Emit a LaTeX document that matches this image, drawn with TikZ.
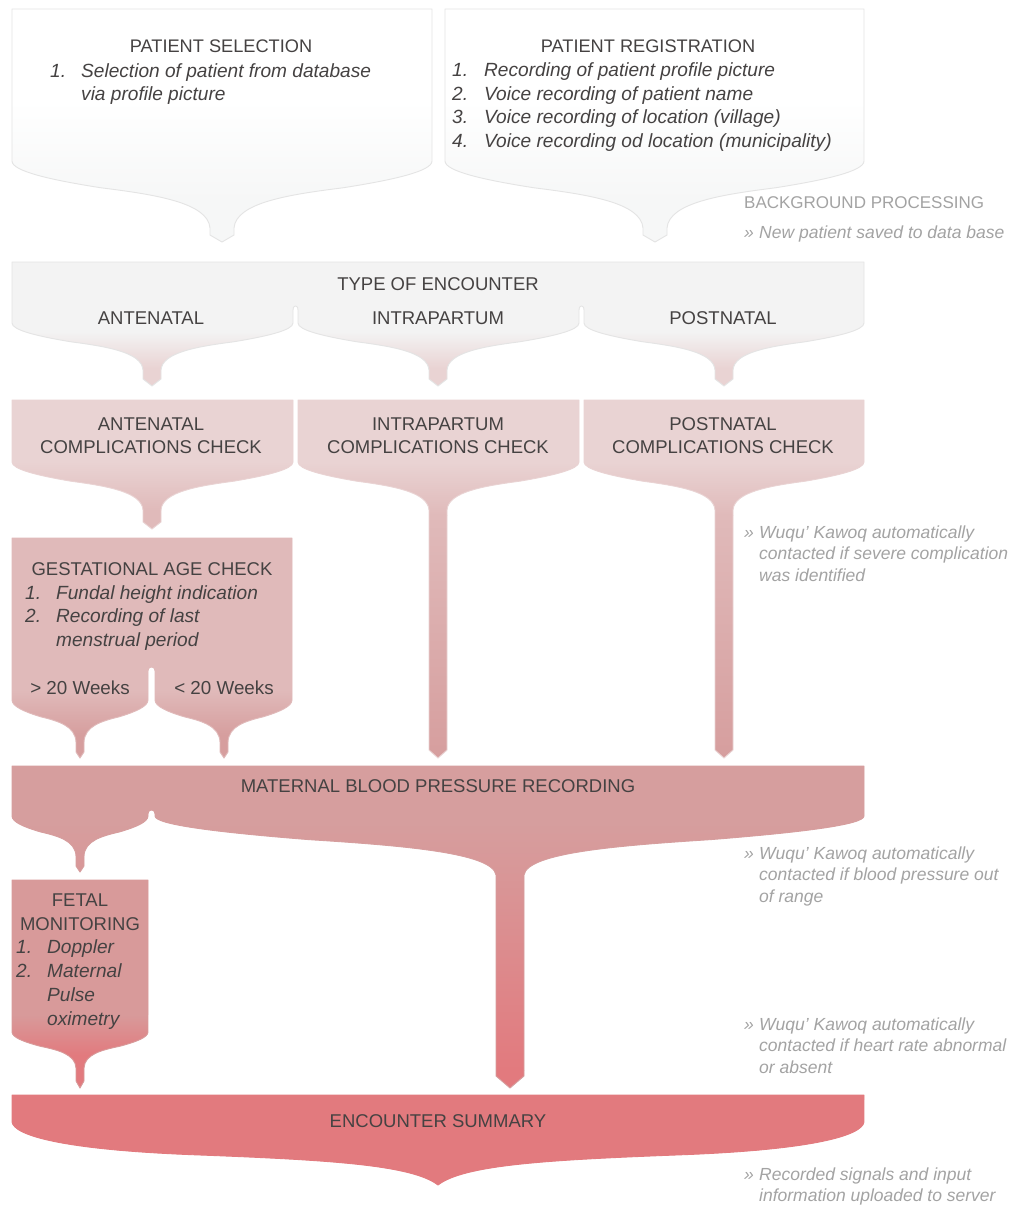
\documentclass[tikz,border=0pt]{standalone}
\usepackage{fontspec}
\setmainfont{Liberation Sans}
\definecolor{txt}{HTML}{454242}
\definecolor{note}{HTML}{A3A3A3}
\definecolor{edge}{HTML}{E4E4E4}
\definecolor{cWhite}{HTML}{FFFFFF}
\definecolor{cPale}{HTML}{F6F7F7}
\definecolor{cGrey}{HTML}{F3F3F3}
\definecolor{cRoseA}{HTML}{E9D3D3}
\definecolor{cRoseB}{HTML}{E0BABA}
\definecolor{cRoseC}{HTML}{D69E9E}
\definecolor{cRoseD}{HTML}{D89A9A}
\definecolor{cRed}{HTML}{E27A7E}
\newcommand\startP[2]{\xdef\fpath{(#1,#2)}}
\newcommand\addL[2]{\xdef\fpath{\fpath -- (#1,#2)}}
\newcommand\addRaw[1]{\xdef\fpath{\fpath #1}}
% xl xr yside cx halfwidth ystem ytipbase ytip
\newcommand\addlow[8]{%
 \pgfmathsetmacro\sl{#4-#5}\pgfmathsetmacro\sr{#4+#5}%
 \pgfmathsetmacro\wl{\sl-#1}\pgfmathsetmacro\wr{#2-\sr}%
 \pgfmathsetmacro\dd{#6-#3}%
 \pgfmathsetmacro\ym{#3+0.40*\dd}\pgfmathsetmacro\yca{#3+0.15*\dd}\pgfmathsetmacro\ycb{#3+0.28*\dd}%
 \pgfmathsetmacro\ycc{#3+0.50*\dd}\pgfmathsetmacro\ycd{#3+0.62*\dd}%
 \pgfmathsetmacro\xa{#1+0.19*\wl}\pgfmathsetmacro\xb{#1+0.45*\wl}\pgfmathsetmacro\xc{#1+0.72*\wl}\pgfmathsetmacro\xg{#1+0.99*\wl}%
 \pgfmathsetmacro\xd{#2-0.19*\wr}\pgfmathsetmacro\xe{#2-0.45*\wr}\pgfmathsetmacro\xf{#2-0.72*\wr}\pgfmathsetmacro\xh{#2-0.99*\wr}%
 \xdef\fpath{\fpath -- (#1,#3) .. controls (#1,\yca) and (\xa,\ycb) .. (\xb,\ym)
   .. controls (\xc,\ycc) and (\xg,\ycd) .. (\sl,#6) -- (\sl,#7) -- (#4,#8) -- (\sr,#7) -- (\sr,#6)
   .. controls (\xh,\ycd) and (\xf,\ycc) .. (\xe,\ym) .. controls (\xd,\ycb) and (#2,\yca) .. (#2,#3)}}
% a notch between two funnels: x1 x2 ytop
\newcommand\addnotch[3]{%
 \pgfmathsetmacro\nm{(#1+#2)/2}\pgfmathsetmacro\ny{#3+4}%
 \xdef\fpath{\fpath -- (#1,\ny) .. controls (#1,#3) and (\nm,#3) .. (\nm,#3) .. controls (\nm,#3) and (#2,#3) .. (#2,\ny)}}
% colours a b c, gradient stops y1 y2 y3, outline colour
\newcommand\paintP[7]{%
 \begin{scope}
  \clip \fpath -- cycle;
  \fill[#1] (0,0) rectangle (1011,#4);
  \shade[top color=#1,bottom color=#2] (0,#4) rectangle (1011,#5);
  \shade[top color=#2,bottom color=#3] (0,#5) rectangle (1011,#6);
  \fill[#3] (0,#6) rectangle (1011,1205);
 \end{scope}
 \draw[#7,line width=0.9pt,line join=round] \fpath -- cycle;}
\tikzset{
 head/.style={anchor=base,text=txt,font=\fontsize{18.5}{18}\selectfont,inner sep=0pt},
 headsmall/.style={head,font=\fontsize{18.2}{18}\selectfont},
 weeks/.style={head,font=\fontsize{18.8}{18}\selectfont},
 item/.style={anchor=base west,text=txt,font=\fontsize{19.1}{18}\selectfont\itshape,inner sep=0pt},
 side/.style={anchor=base west,text=note,font=\fontsize{17.5}{17}\selectfont\itshape,inner sep=0pt},
 sidehead/.style={anchor=base west,text=note,font=\fontsize{17}{17}\selectfont,inner sep=0pt}
}
\begin{document}
\begin{tikzpicture}[x=1pt,y=-1pt]
\useasboundingbox (0,0) rectangle (1011,1205);
\fill[white] (0,0) rectangle (1011,1205);
% patient selection
\startP{12}{9}\addlow{12}{432}{161}{222}{12}{228}{235}{242}\addL{432}{9}
\paintP{cWhite}{cPale}{cPale}{100}{200}{240}{edge}
% patient registration
\startP{445}{9}\addlow{445}{864}{161}{655}{12}{228}{235}{242}\addL{864}{9}
\paintP{cWhite}{cPale}{cPale}{100}{200}{240}{edge}
% type of encounter
\startP{12}{262}
\addlow{12}{293}{323}{152}{9}{370}{379}{386}
\addnotch{293}{298}{306}
\addlow{298}{579}{323}{438}{9}{370}{379}{386}
\addnotch{579}{584}{306}
\addlow{584}{864}{323}{724}{9}{370}{379}{386}
\addL{864}{262}
\paintP{cGrey}{cRoseA}{cRoseA}{332}{368}{386}{edge}
% complications
\startP{12}{400}\addlow{12}{293}{462}{152}{9}{510}{522}{529}\addL{293}{400}
\paintP{cRoseA}{cRoseB}{cRoseB}{462}{510}{529}{cRoseA}
\startP{298}{400}\addlow{298}{579}{462}{438}{9}{510}{750}{758}\addL{579}{400}
\paintP{cRoseA}{cRoseB}{cRoseC}{462}{515}{758}{cRoseA}
\startP{584}{400}\addlow{584}{864}{462}{724}{9}{510}{750}{758}\addL{864}{400}
\paintP{cRoseA}{cRoseB}{cRoseC}{462}{515}{758}{cRoseA}
% gestational age
\startP{12}{538}
\addlow{12}{148}{700}{80}{4}{742}{752}{758}
\addnotch{148}{155}{667}
\addlow{155}{292}{700}{224}{4}{742}{752}{758}
\addL{292}{538}
\paintP{cRoseB}{cRoseC}{cRoseC}{690}{735}{758}{cRoseB}
% maternal blood pressure
\startP{12}{766}
\addlow{12}{148}{816}{80}{4}{856}{866}{872}
\addnotch{148}{155}{810}
\addlow{155}{864}{816}{510}{14}{875}{1076}{1088}
\addL{864}{766}
\paintP{cRoseC}{cRed}{cRed}{822}{1070}{1088}{cRoseC}
% fetal monitoring
\startP{12}{880}\addlow{12}{148}{1032}{80}{4}{1068}{1081}{1088}\addL{148}{880}
\paintP{cRoseD}{cRed}{cRed}{1015}{1055}{1088}{cRoseD}
% encounter summary
\startP{12}{1095}\addL{12}{1122}
\addRaw{.. controls (14,1135) and (60,1150) .. (200,1155) .. controls (330,1160) and (412,1165) .. (438,1185)
 .. controls (464,1165) and (546,1160) .. (676,1155) .. controls (816,1150) and (862,1135) .. (864,1122)}
\addL{864}{1095}
\paintP{cRed}{cRed}{cRed}{1100}{1150}{1190}{cRed}
% texts
\node[headsmall] (n1) at (221,52) {PATIENT SELECTION};
\node[item] (n2) at (50,77) {1.};
\node[item] (n3) at (81,77) {Selection of patient from database};
\node[item] (n4) at (81,100) {via profile picture};
\node[headsmall] (r0) at (648,52) {PATIENT REGISTRATION};
\node[item] (r1) at (452,76) {1.};
\node[item] (r2) at (484,76) {Recording of patient profile picture};
\node[item] (r3) at (452,100) {2.};
\node[item] (r4) at (484,100) {Voice recording of patient name};
\node[item] (r5) at (452,123) {3.};
\node[item] (r6) at (484,123) {Voice recording of location (village)};
\node[item] (r7) at (452,147) {4.};
\node[item] (r8) at (484,147) {Voice recording od location (municipality)};
\node[sidehead] (b1) at (744,208) {BACKGROUND PROCESSING};
\node[side] (b2) at (744,238) {»};
\node[side] (b3) at (759,238) {New patient saved to data base};
\node[head] (e0) at (438,290) {TYPE OF ENCOUNTER};
\node[head] (e1) at (151,324) {ANTENATAL};
\node[head] (e2) at (438,324) {INTRAPARTUM};
\node[head] (e3) at (723,324) {POSTNATAL};
\node[head] (c1) at (151,430) {ANTENATAL};
\node[head] (c2) at (151,453) {COMPLICATIONS CHECK};
\node[head] (c3) at (438,430) {INTRAPARTUM};
\node[head] (c4) at (438,453) {COMPLICATIONS CHECK};
\node[head] (c5) at (723,430) {POSTNATAL};
\node[head] (c6) at (723,453) {COMPLICATIONS CHECK};
\node[side] (w1) at (744,538) {»};
\node[side] (w2) at (759,538) {Wuqu' Kawoq automatically};
\node[side] (w3) at (759,559) {contacted if severe complication};
\node[side] (w4) at (759,581) {was identified};
\node[head] (g0) at (152,575) {GESTATIONAL AGE CHECK};
\node[item] (g1) at (25,599) {1.};
\node[item] (g2) at (56,599) {Fundal height indication};
\node[item] (g3) at (25,622) {2.};
\node[item] (g4) at (56,622) {Recording of last};
\node[item] (g5) at (56,646) {menstrual period};
\node[weeks] (g6) at (80,694) {> 20 Weeks};
\node[weeks] (g7) at (224,694) {< 20 Weeks};
\node[head] (m0) at (438,792) {MATERNAL BLOOD PRESSURE RECORDING};
\node[side] (x1) at (744,859) {»};
\node[side] (x2) at (759,859) {Wuqu' Kawoq automatically};
\node[side] (x3) at (759,880) {contacted if blood pressure out};
\node[side] (x4) at (759,902) {of range};
\node[head] (f0) at (80,906) {FETAL};
\node[head] (f1) at (80,930) {MONITORING};
\node[item] (f2) at (16,953) {1.};
\node[item] (f3) at (47,953) {Doppler};
\node[item] (f4) at (16,977) {2.};
\node[item] (f5) at (47,977) {Maternal};
\node[item] (f6) at (47,1001) {Pulse};
\node[item] (f7) at (47,1025) {oximetry};
\node[side] (y1) at (744,1030) {»};
\node[side] (y2) at (759,1030) {Wuqu' Kawoq automatically};
\node[side] (y3) at (759,1051) {contacted if heart rate abnormal};
\node[side] (y4) at (759,1073) {or absent};
\node[head] (s0) at (438,1127) {ENCOUNTER SUMMARY};
\node[side] (z1) at (744,1180) {»};
\node[side] (z2) at (759,1180) {Recorded signals and input};
\node[side] (z3) at (759,1201) {information uploaded to server};
\end{tikzpicture}
\end{document}
